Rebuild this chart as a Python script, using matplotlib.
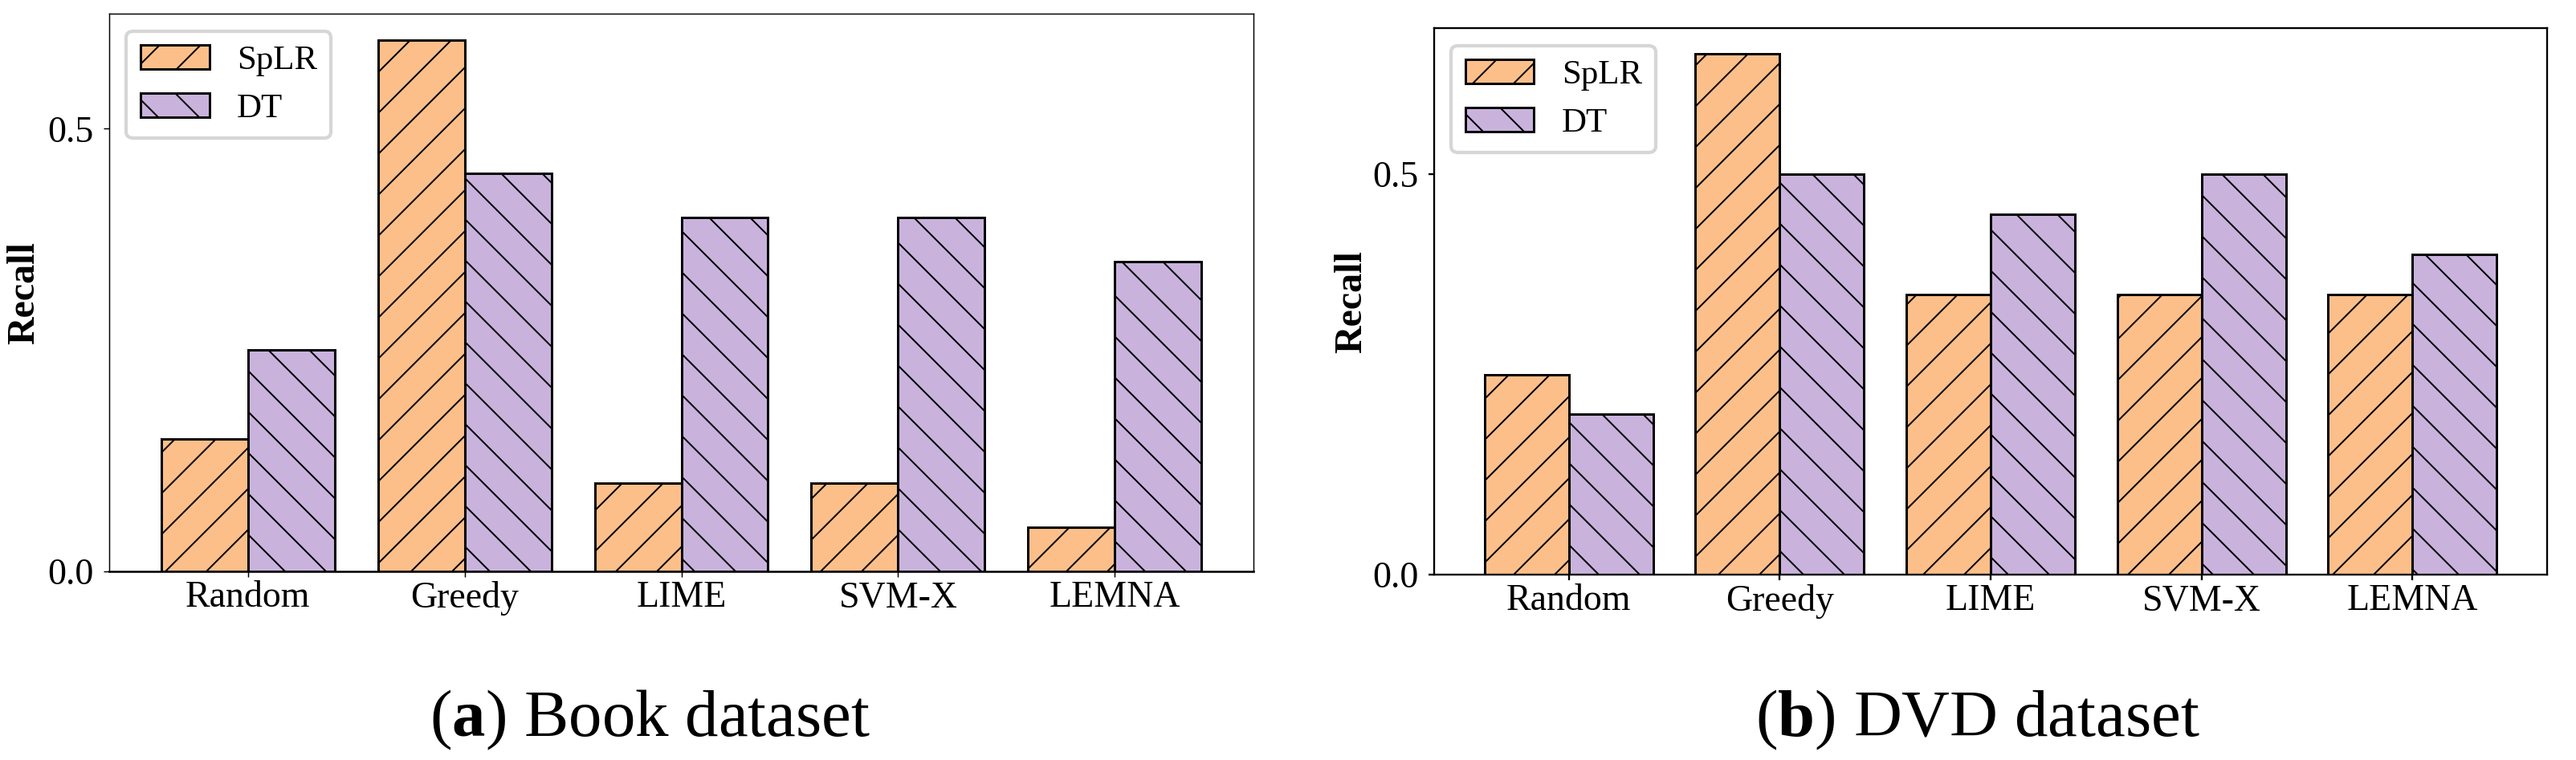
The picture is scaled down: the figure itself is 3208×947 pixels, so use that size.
import numpy as np
import matplotlib
matplotlib.use("Agg")
import matplotlib.pyplot as plt

# ---- data ----
categories = ["Random", "Greedy", "LIME", "SVM-X", "LEMNA"]
series_names = ["SpLR", "DT"]
book_splr = [0.15, 0.60, 0.10, 0.10, 0.05]
book_dt = [0.25, 0.45, 0.40, 0.40, 0.35]
dvd_splr = [0.25, 0.65, 0.35, 0.35, 0.35]
dvd_dt = [0.20, 0.50, 0.45, 0.50, 0.40]
ytick_values = [0.0, 0.5]
ytick_labels = ["0.0", "0.5"]
y_label = "Recall"
captions = [r"($\mathbf{a}$) Book dataset", r"($\mathbf{b}$) DVD dataset"]

# ---- style ----
DPI = 306
plt.rcParams["font.family"] = ["Liberation Serif", "DejaVu Serif"]
plt.rcParams["mathtext.fontset"] = "custom"
plt.rcParams["mathtext.rm"] = "Liberation Serif"
plt.rcParams["mathtext.bf"] = "Liberation Serif:bold"
plt.rcParams["hatch.linewidth"] = 0.47
plt.rcParams["hatch.color"] = "black"

c_splr = "#FDBF8A"
c_dt = "#C9B3DD"

fig = plt.figure(figsize=(3208 / DPI, 947 / DPI), dpi=DPI)
ax1 = fig.add_axes([0.0424, 0.2481, 0.4442, 0.7339])
ax2 = fig.add_axes([0.5567, 0.2439, 0.4321, 0.7191])

panels = [
    (ax1, book_splr, book_dt, 0.35, 0.6),
    (ax2, dvd_splr, dvd_dt, 0.55, 0.55),
]

x = np.arange(len(categories))
w = 0.4
for ax, s1, s2, spw, bw in panels:
    ax.bar(x - w / 2, s1, w, color=c_splr, edgecolor="black", linewidth=0.7,
           hatch="//", label=series_names[0])
    ax.bar(x + w / 2, s2, w, color=c_dt, edgecolor="black", linewidth=0.7,
           hatch="\\\\", label=series_names[1])
    ax.set_xticks(x)
    ax.set_xticklabels(categories)
    ax.set_yticks(ytick_values)
    ax.set_yticklabels(ytick_labels)
    ax.tick_params(axis="both", labelsize=10.8, length=1.6, width=spw)
    ax.tick_params(axis="x", pad=1.2)
    ax.tick_params(axis="y", pad=3.0)
    for name, sp in ax.spines.items():
        sp.set_linewidth(spw)
        sp.set_color("black")
    ax.spines["bottom"].set_linewidth(bw)
    ax.set_ylabel(y_label, fontsize=11.3, fontweight="bold", va="center")
    ax.yaxis.set_label_coords(-0.0744, 0.5)
    ax.legend(loc="upper left", fontsize=10.1)

fig.text(0.2525, 0.0317, captions[0], ha="center", va="baseline", fontsize=19.5)
fig.text(0.7678, 0.0317, captions[1], ha="center", va="baseline", fontsize=19.5)

fig.savefig("out.png", dpi=DPI)
